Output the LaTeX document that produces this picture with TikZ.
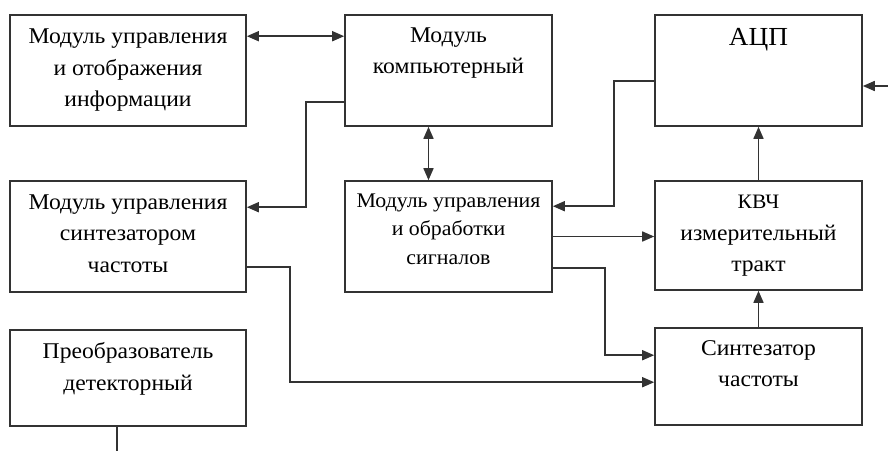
\documentclass[tikz,border=0pt]{standalone}
\usepackage{fontspec}
\setmainfont{Liberation Serif}
\newfontfamily\blkfont[FakeStretch=1.05]{Liberation Serif}
\usepackage{xcolor}
\usepackage{tikz}
\usetikzlibrary{calc,arrows.meta}
\definecolor{ln}{HTML}{333333}
\tikzset{
  blk/.style={draw=ln, line width=1.6pt, inner sep=0pt},
  txt/.style={anchor=north, inner sep=0pt, align=center, font=\blkfont\fontsize{22.5}{31.5}\selectfont},
  arr/.style={draw=ln, line width=1.6pt, >={Triangle[length=12pt,width=10pt]}}
}

\begin{document}
\begin{tikzpicture}[x=1pt, y=-1pt]
\useasboundingbox (0,0) rectangle (888,451);
% the blocks, laid out at fixed coordinates
\node[blk, minimum width=236, minimum height=111] (upr) at (128,70.5) {};
\node[blk, minimum width=207, minimum height=111] (komp) at (448.5,70.5) {};
\node[blk, minimum width=207, minimum height=111] (acp) at (758.5,70.5) {};
\node[blk, minimum width=236, minimum height=111] (uprsint) at (128,236.5) {};
\node[blk, minimum width=207, minimum height=111] (obr) at (448.5,236.5) {};
\node[blk, minimum width=207, minimum height=109] (kvch) at (758.5,235.5) {};
\node[blk, minimum width=236, minimum height=96] (preob) at (128,378) {};
\node[blk, minimum width=207, minimum height=97] (sint) at (758.5,376.5) {};

% texts hang from the top of each block
\node[txt] (uprT) at ($(upr.north)+(0,14.5)$) {Модуль управления\\и отображения\\информации};
\node[txt] (kompT) at ($(komp.north)+(0,13)$) {Модуль\\компьютерный};
\node[txt, font=\blkfont\fontsize{26}{32}\selectfont] (acpT) at ($(acp.north)+(0,14)$) {АЦП};
\node[txt] (uprsintT) at ($(uprsint.north)+(0,14)$) {Модуль управления\\синтезатором\\частоты};
\node[txt, font=\blkfont\fontsize{20.8}{28.5}\selectfont] (obrT) at ($(obr.north)+(0,13)$) {Модуль управления\\и обработки\\сигналов};
\node[txt] (kvchT) at ($(kvch.north)+(0,15)$) {{\fontsize{20.5}{31.5}\selectfont КВЧ}\\измерительный\\тракт};
\node[txt] (preobT) at ($(preob.north)+(0,13)$) {Преобразователь\\детекторный};
\node[txt] (sintT) at ($(sint.north)+(0,13)$) {Синтезатор\\частоты};

% free ends at the picture border
\coordinate (vhod) at (888,86);
\coordinate (vyhod) at (117,451);

\draw[arr, <->] ($(upr.north east)+(0,22)$) -- ($(komp.north west)+(0,22)$);
\draw[arr, ->] ($(komp.north west)+(0,88)$) -- ++(-38,0) |- ($(uprsint.north east)+(0,27)$);
\draw[arr, <->] ($(komp.south)+(-20,0)$) -- ($(obr.north)+(-20,0)$);
\draw[arr, ->] ($(acp.north west)+(0,67)$) -- ++(-40,0) |- ($(obr.north east)+(0,26)$);
\draw[arr, ->] (obr.east) -- (kvch.west |- obr.east);
\draw[arr, ->] ($(obr.south east)+(0,-25)$) -- ++(52,0) |- ($(sint.north west)+(0,28)$);
\draw[arr, ->] ($(uprsint.south east)+(0,-26)$) -- ++(43,0) |- ($(sint.north west)+(0,55)$);
\draw[arr, ->] (kvch.north) -- (acp.south);
\draw[arr, ->] (sint.north) -- (kvch.south);
\draw[arr, ->] (vhod) -- (acp.east |- vhod);
\draw[arr] (preob.south -| vyhod) -- (vyhod);

\end{tikzpicture}
\end{document}
